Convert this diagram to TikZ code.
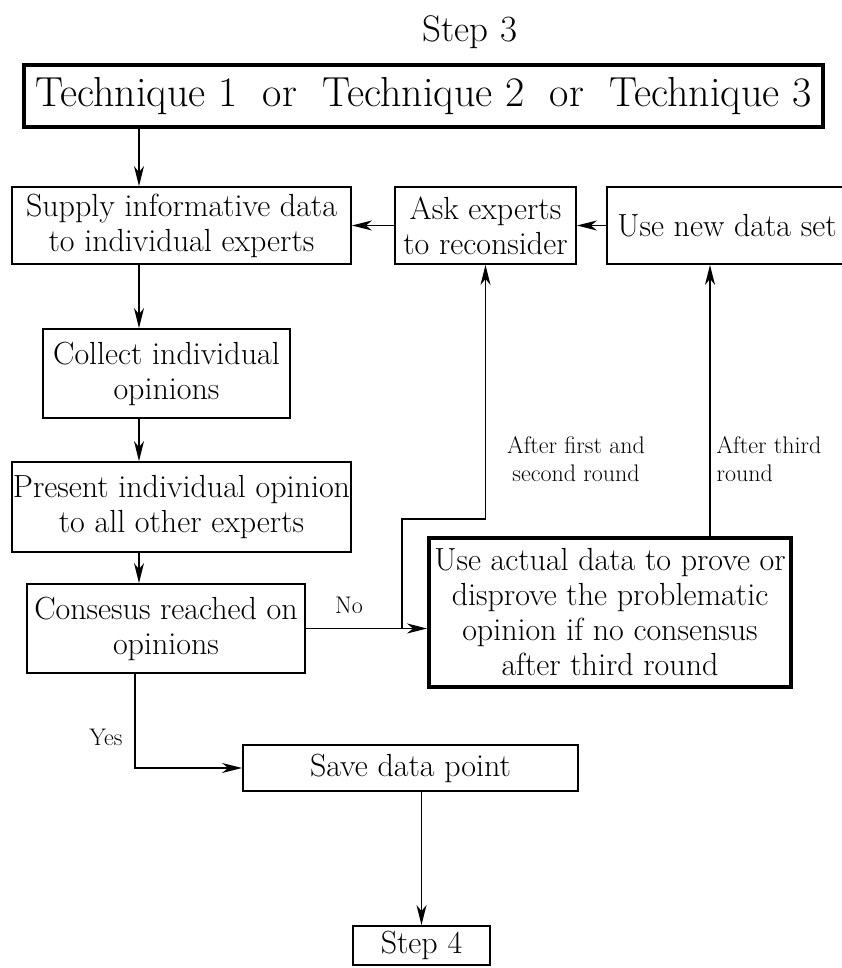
\documentclass[tikz,border=0pt]{standalone}
\usepackage{tikz}
\usetikzlibrary{arrows.meta}

\begin{document}
\begin{tikzpicture}[
    x=1pt, y=-1pt,
    box/.style={draw, line width=1.8pt, inner sep=0pt, align=center,
                font=\fontsize{32}{35}\selectfont},
    bbox/.style={box, line width=4pt},
    arr/.style={-{Stealth[length=20pt, width=10pt, inset=6pt]}, line width=1.8pt},
    lbl/.style={font=\fontsize{24}{28}\selectfont, align=center}
  ]
    \useasboundingbox (0,0) rectangle (841,968);
    % Title
    \node[font=\fontsize{37}{42}\selectfont] (title) at (470,32) {Step 3};
    % Techniques
    \node[bbox, minimum width=799pt, minimum height=62pt, font=\fontsize{42}{48}\selectfont]
        (tech) at (423.5,96) {Technique 1~~or~~Technique 2~~or~~Technique 3};
    % Top row
    \node[box, minimum width=339pt, minimum height=77pt] (supply) at (181.5,225.5)
        {Supply informative data\\to individual experts};
    \node[box, minimum width=181pt, minimum height=77pt] (ask) at (485.5,225.5)
        {Ask experts\\to reconsider};
    \node[box, minimum width=240pt, minimum height=77pt] (newdata) at (727,225.5)
        {Use new data set};
    % Left column
    \node[box, minimum width=247pt, minimum height=89pt] (collect) at (166.5,373.5)
        {Collect individual\\opinions};
    \node[box, minimum width=339pt, minimum height=90pt] (present) at (181.5,507)
        {Present individual opinion\\to all other experts};
    \node[box, minimum width=278pt, minimum height=89pt] (consensus) at (166,628.5)
        {Consesus reached on\\opinions};
    % Actual data
    \node[bbox, minimum width=362pt, minimum height=149pt] (actual) at (610,612.5)
        {Use actual data to prove or\\disprove the problematic\\opinion if no consensus\\after third round};
    % Bottom
    \node[box, minimum width=335pt, minimum height=46pt] (save) at (410.5,768) {Save data point};
    \node[box, minimum width=137pt, minimum height=39pt] (step4) at (421.5,945.5) {Step 4};
    % Labels
    \node[lbl] (lno) at (349,605) {No};
    \node[lbl] (lyes) at (106,737) {Yes};
    \node[lbl] (lfirst) at (576,459) {After first and\\second round};
    \node[lbl, anchor=west, align=left] (lthird) at (713,459) {After third\\round};
    % Helper points
    \coordinate (col) at (139,0);
    \coordinate (fb) at (402,519);
    \coordinate (rx) at (710,0);
    \coordinate (yes) at (135,0);
    % Arrows
    \draw[arr] (tech.south -| col) -- (supply.north -| col);
    \draw[arr] (supply.south -| col) -- (collect.north -| col);
    \draw[arr] (collect.south -| col) -- (present.north -| col);
    \draw[arr] (present.south -| col) -- (consensus.north -| col);
    \draw[arr] (newdata.west) -- (ask.east);
    \draw[arr] (ask.west) -- (supply.east);
    \draw[arr] (consensus.east) -- (consensus.east -| actual.west);
    \draw[arr] (consensus.east -| fb) -- (fb) -| (ask.south);
    \draw[arr] (actual.north -| rx) -- (newdata.south -| rx);
    \draw[arr] (consensus.south -| yes) |- (save.west);
    \draw[arr] (save.south -| step4.north) -- (step4.north);
\end{tikzpicture}
\end{document}
